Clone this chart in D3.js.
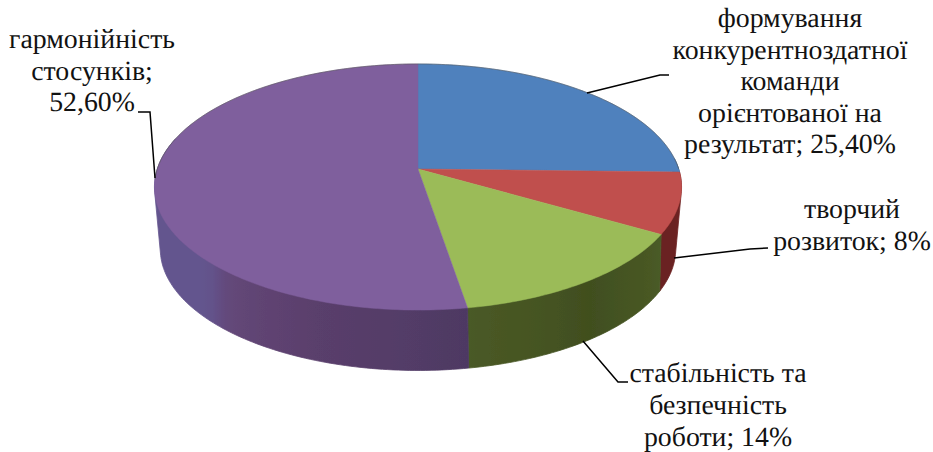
<!DOCTYPE html>
<html><head><meta charset="utf-8">
<script src="https://cdnjs.cloudflare.com/ajax/libs/d3/7.8.5/d3.min.js"></script>
<style>html,body{margin:0;background:#fff}svg{display:block}text{font-family:"Liberation Serif","Times New Roman",serif;font-size:27.8px;fill:#111;text-rendering:geometricPrecision}</style>
</head><body><svg id="c" width="933" height="452"></svg>
<script>
const categories = ["формування конкурентноздатної команди орієнтованої на результат","творчий розвиток","стабільність та безпечність роботи","гармонійність стосунків"];
const values = [25.4, 8, 14, 52.6];
const topColors = ["#4f81bd","#c0504d","#9bbb59","#7f5f9d"];
const sideDomains = [[90,100],[90,122],[120,145,170.6],[170.6,200,220,226,240,290]];
const sideRanges = [["#2f4d71","#2f4d71"],["#6e2222","#6a2020"],["#4a5b26","#414f1f","#4a5a26"],["#4e3963","#5a3f6c","#644778","#64558e","#64558e","#64558e"]];
const labelLines = [
 ["формування","конкурентноздатної","команди","орієнтованої на","результат; 25,40%"],
 ["творчий","розвиток; 8%"],
 ["стабільність та","безпечність","роботи; 14%"],
 ["гармонійність","стосунків;","52,60%"]];
const labelAnchors = [[790,27],[852,218],[718,382.3],[92,48]];
const lineStep = 31.6;
const leaders = [
 [[587,93],[660,75],[669,75]],
 [[674,258],[750,249],[768,248]],
 [[583,341],[618,382],[628,382]],
 [[138,112],[150,112],[155,178]]];

const svg = d3.select("#c");
const defs = svg.append("defs");
defs.append("filter").attr("id","soft").append("feGaussianBlur").attr("stdDeviation",0.6);
const pie = d3.pie().sort(null).value(d=>d)(values);
const deg = r=>r*180/Math.PI, rad = d=>d*Math.PI/180;

const project = (cx,cy,rx,b,k)=> a=>{
  const u=Math.sin(a), v=-Math.cos(a), w=1-k*v;
  return [cx+rx*u/w, cy+b*v/w];
};
const topP  = project(418,169,260.7,120.4,0.1464);
const baseP = project(418,226,253,117,0.19);
const apex = [418,169];
const line = d3.line();
const arcPts = (a0,a1,P)=>d3.range(0,1.0001,1/Math.max(2,Math.ceil(deg(a1-a0)))).map(t=>P(a0+(a1-a0)*t));

const g = svg.append("g").attr("filter","url(#soft)");
pie.forEach((s,i)=>{
  const shade = d3.scaleLinear().domain(sideDomains[i]).range(sideRanges[i]).clamp(true);
  const a0=Math.max(s.startAngle,rad(85)), a1=Math.min(s.endAngle,rad(285));
  if(a1<=a0) return;
  const sa1=Math.min(a1,rad(275));
  const xs=d3.extent(arcPts(a0,sa1,topP),d=>d[0]);
  const grad=defs.append("linearGradient").attr("id","side"+i).attr("gradientUnits","userSpaceOnUse")
    .attr("x1",xs[0]).attr("x2",xs[1]).attr("y1",0).attr("y2",0);
  const stops=d3.range(0,1.0001,0.04).map(t=>a0+(sa1-a0)*t)
    .map(a=>({o:(topP(a)[0]-xs[0])/(xs[1]-xs[0]),c:shade(deg(a))})).sort((p,q)=>p.o-q.o);
  stops.forEach(p=>grad.append("stop").attr("offset",p.o).attr("stop-color",p.c));
  const hull=d3.polygonHull([...arcPts(a0,a1,topP),...arcPts(a0,a1,baseP)]);
  g.append("path").attr("d",line(hull)+"Z").attr("fill","url(#side"+i+")")
   .attr("stroke","url(#side"+i+")").attr("stroke-width",0.8);
});
pie.forEach((s,i)=>{
  g.append("path").attr("d",line([apex,...arcPts(s.startAngle,s.endAngle,topP)])+"Z")
   .attr("fill",topColors[i]).attr("stroke",topColors[i]).attr("stroke-width",0.5);
});
g.append("path").attr("d",line(arcPts(rad(-95),rad(90),topP))).attr("fill","none").attr("stroke","#555").attr("stroke-width",1).attr("opacity",0.55);

svg.append("g").selectAll("path").data(leaders).join("path")
 .attr("d",d=>line(d)).attr("fill","none").attr("stroke","#000").attr("stroke-width",1.5);
labelLines.forEach((ls,i)=>{
  const t=svg.append("text").attr("text-anchor","middle");
  ls.forEach((l,j)=>t.append("tspan").attr("x",labelAnchors[i][0]).attr("y",labelAnchors[i][1]+j*lineStep).text(l));
});
</script></body></html>
